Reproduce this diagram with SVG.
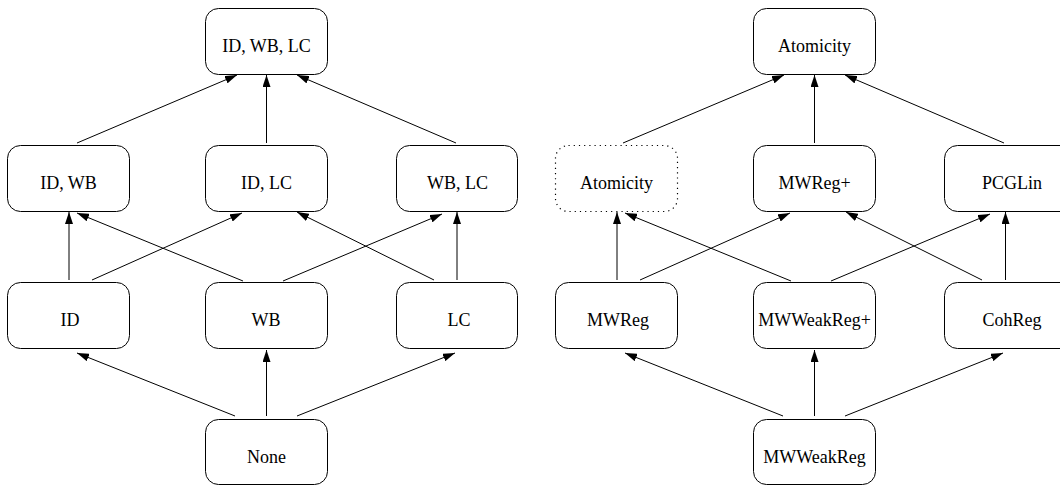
<svg xmlns="http://www.w3.org/2000/svg" width="1060" height="485" viewBox="0 0 1060 485">
<style>
.box{fill:#fff;stroke:#000;stroke-width:1}
.dot{fill:#fff;stroke:#000;stroke-width:1.2;stroke-dasharray:1.2,4}
.lbl{font-family:"Liberation Serif","Times New Roman",serif;font-size:18px;fill:#000;text-anchor:middle}
.edge{stroke:#000;stroke-width:1;fill:none;marker-end:url(#ah)}
</style>
<defs>
<marker id="ah" markerUnits="userSpaceOnUse" markerWidth="12" markerHeight="8" refX="12" refY="4" orient="auto">
<path d="M0,0 L12,4 L0,8 z" fill="#000"/>
</marker>
</defs>
<rect width="1060" height="485" fill="#fff"/>
<g id="connectors">
<line class="edge" x1="77" y1="143" x2="237" y2="75"/>
<line class="edge" x1="266.5" y1="143" x2="266.5" y2="75"/>
<line class="edge" x1="456" y1="143" x2="297" y2="75"/>
<line class="edge" x1="69" y1="280" x2="69" y2="212"/>
<line class="edge" x1="92" y1="280" x2="242" y2="213"/>
<line class="edge" x1="243" y1="281" x2="77" y2="213"/>
<line class="edge" x1="283" y1="281" x2="442" y2="214"/>
<line class="edge" x1="434" y1="280" x2="297" y2="212"/>
<line class="edge" x1="457" y1="280" x2="457" y2="212"/>
<line class="edge" x1="235" y1="416" x2="77" y2="353"/>
<line class="edge" x1="266.5" y1="416" x2="266.5" y2="350"/>
<line class="edge" x1="297" y1="416" x2="455" y2="353"/>
<line class="edge" x1="623" y1="143" x2="784" y2="75"/>
<line class="edge" x1="814.5" y1="143" x2="814.5" y2="75"/>
<line class="edge" x1="1004" y1="143" x2="845" y2="75"/>
<line class="edge" x1="617" y1="280" x2="617" y2="212"/>
<line class="edge" x1="640" y1="280" x2="790" y2="213"/>
<line class="edge" x1="791" y1="281" x2="625" y2="213"/>
<line class="edge" x1="831" y1="281" x2="990" y2="214"/>
<line class="edge" x1="982" y1="280" x2="846" y2="212"/>
<line class="edge" x1="1005.5" y1="280" x2="1005.5" y2="212"/>
<line class="edge" x1="783" y1="416" x2="625" y2="353"/>
<line class="edge" x1="814.5" y1="416" x2="814.5" y2="350"/>
<line class="edge" x1="845" y1="416" x2="1003" y2="353"/>
</g>
<g id="n-idwblc"><rect class="box" x="205.5" y="8.5" width="122" height="66" rx="13"/><text class="lbl" x="266.5" y="52">ID, WB, LC</text></g>
<g id="n-idwb"><rect class="box" x="7.5" y="145.5" width="122" height="66" rx="13"/><text class="lbl" x="68.5" y="189">ID, WB</text></g>
<g id="n-idlc"><rect class="box" x="205.5" y="145.5" width="122" height="66" rx="13"/><text class="lbl" x="266.5" y="189">ID, LC</text></g>
<g id="n-wblc"><rect class="box" x="396.5" y="145.5" width="121" height="66" rx="13"/><text class="lbl" x="457.5" y="189">WB, LC</text></g>
<g id="n-id"><rect class="box" x="7.5" y="282.5" width="122" height="66" rx="13"/><text class="lbl" x="70" y="325.5">ID</text></g>
<g id="n-wb"><rect class="box" x="205.5" y="282.5" width="122" height="66" rx="13"/><text class="lbl" x="266" y="325.5">WB</text></g>
<g id="n-lc"><rect class="box" x="396.5" y="282.5" width="121" height="66" rx="13"/><text class="lbl" x="459" y="325.5">LC</text></g>
<g id="n-none"><rect class="box" x="205.5" y="419.5" width="122" height="65" rx="13"/><text class="lbl" x="266.5" y="463">None</text></g>
<g id="n-atomicity-top"><rect class="box" x="753.5" y="8.5" width="122" height="66" rx="13"/><text class="lbl" x="814.5" y="52">Atomicity</text></g>
<g id="n-atomicity"><rect class="dot" x="555.5" y="145.5" width="122" height="66" rx="13"/><text class="lbl" x="616.5" y="189">Atomicity</text></g>
<g id="n-mwregplus"><rect class="box" x="753.5" y="145.5" width="122" height="66" rx="13"/><text class="lbl" x="814.5" y="189">MWReg+</text></g>
<g id="n-pcglin"><rect class="box" x="944.5" y="145.5" width="130" height="66" rx="13"/><text class="lbl" x="1012" y="189">PCGLin</text></g>
<g id="n-mwreg"><rect class="box" x="555.5" y="282.5" width="122" height="66" rx="13"/><text class="lbl" x="618" y="325.5">MWReg</text></g>
<g id="n-mwweakregplus"><rect class="box" x="753.5" y="282.5" width="122" height="66" rx="13"/><text class="lbl" x="814.5" y="325.5">MWWeakReg+</text></g>
<g id="n-cohreg"><rect class="box" x="944.5" y="282.5" width="130" height="66" rx="13"/><text class="lbl" x="1012" y="325.5">CohReg</text></g>
<g id="n-mwweakreg"><rect class="box" x="753.5" y="419.5" width="122" height="65" rx="13"/><text class="lbl" x="814.5" y="463">MWWeakReg</text></g>
</svg>
